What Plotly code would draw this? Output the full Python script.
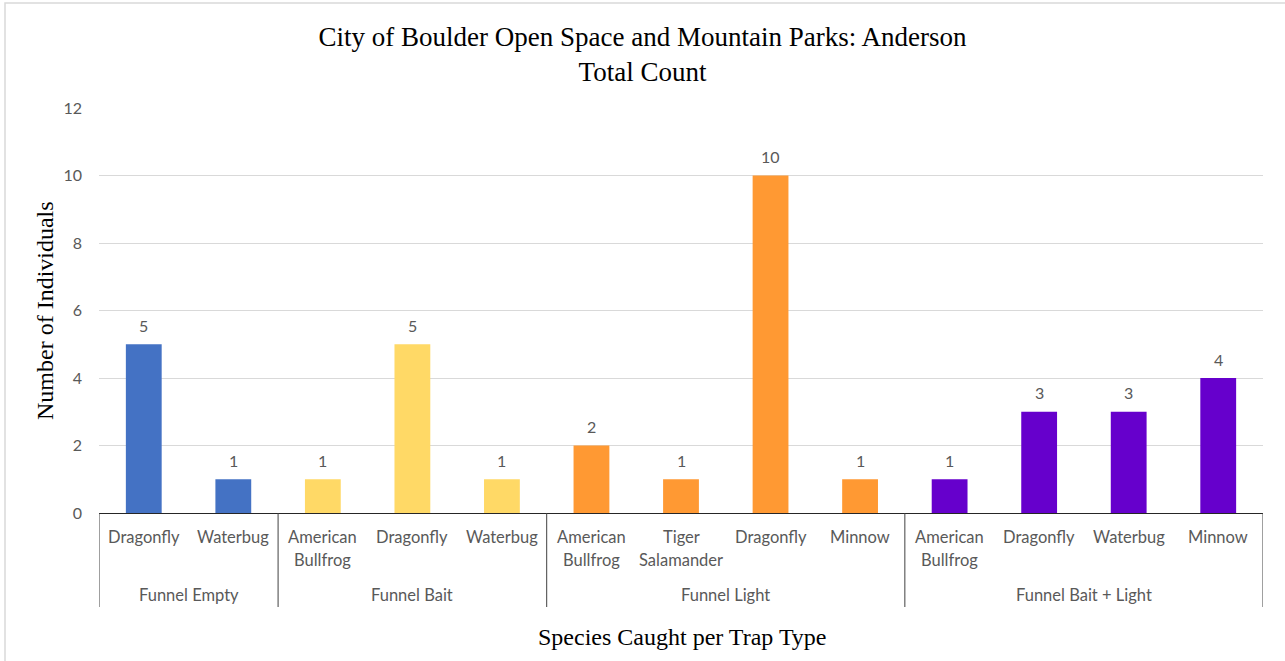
import plotly.graph_objects as go

# ---- data ----
groups = ["Funnel Empty", "Funnel Bait", "Funnel Light", "Funnel Bait + Light"]
species = [
    ["Dragonfly", "Waterbug"],
    ["American\nBullfrog", "Dragonfly", "Waterbug"],
    ["American\nBullfrog", "Tiger\nSalamander", "Dragonfly", "Minnow"],
    ["American\nBullfrog", "Dragonfly", "Waterbug", "Minnow"],
]
counts = [
    [5, 1],
    [1, 5, 1],
    [2, 1, 10, 1],
    [1, 3, 3, 4],
]
y_ticks = [0, 2, 4, 6, 8, 10, 12]
colors = ["#4472C4", "#FFD966", "#FF9933", "#6600CC"]

# ---- layout constants (pixels) ----
W, H = 1285, 661
L, R, T, B = 99, 1263, 108, 513
PW, PH = R - L, B - T


def py(p):  # pixel y -> paper y
    return (B - p) / PH


def px(p):  # pixel x -> paper x
    return (p - L) / PW


label_font = dict(family="Lato, Open Sans, sans-serif", size=16.5, color="#595959")
tick_font = dict(family="Lato, Open Sans, sans-serif", size=16, color="#595959")
serif = "Liberation Serif, Times New Roman, serif"

fig = go.Figure()
annotations = []
shapes = []

idx = 0
boundaries = [-0.5]
for g, (gname, sp, ct, col) in enumerate(zip(groups, species, counts, colors)):
    xs = list(range(idx, idx + len(sp)))
    fig.add_trace(go.Bar(
        x=xs, y=ct, name=gname, marker=dict(color=col, line=dict(width=0)),
        width=0.4, showlegend=False, hoverinfo="skip",
    ))
    for x, v in zip(xs, ct):
        annotations.append(dict(
            x=x, y=v, xref="x", yref="y", text=str(v), showarrow=False,
            font=tick_font, xanchor="center", yanchor="middle", yshift=19,
        ))
    for x, s in zip(xs, sp):
        for li, line in enumerate(s.split("\n")):
            annotations.append(dict(
                x=x, y=py(537 + 23 * li), xref="x", yref="paper",
                text=line, showarrow=False, font=label_font,
                xanchor="center", yanchor="middle",
            ))
    center = (xs[0] + xs[-1]) / 2
    annotations.append(dict(
        x=center, y=py(595), xref="x", yref="paper", text=gname,
        showarrow=False, font=label_font, xanchor="center", yanchor="middle",
    ))
    idx += len(sp)
    boundaries.append(idx - 0.5)

for b in boundaries:
    shapes.append(dict(type="line", xref="x", yref="paper", x0=b, x1=b,
                       y0=0, y1=py(607), line=dict(color="#404040", width=1)))

# chart border
shapes.append(dict(type="rect", xref="paper", yref="paper",
                   x0=px(5), x1=px(1300), y0=py(680), y1=py(3),
                   line=dict(color="#D9D9D9", width=1.5), layer="below"))

# axis titles
annotations.append(dict(
    x=px(682), y=py(637), xref="paper", yref="paper",
    text="Species Caught per Trap Type", showarrow=False,
    font=dict(family=serif, size=24, color="#000000"),
    xanchor="center", yanchor="middle",
))
annotations.append(dict(
    x=px(45), y=py(311), xref="paper", yref="paper",
    text="Number of Individuals", showarrow=False, textangle=-90,
    font=dict(family=serif, size=24, color="#000000"),
    xanchor="center", yanchor="middle",
))

fig.update_layout(
    width=W, height=H,
    margin=dict(l=L, r=W - R, t=T, b=H - B, pad=0),
    paper_bgcolor="white", plot_bgcolor="white",
    title=dict(
        text="City of Boulder Open Space and Mountain Parks: Anderson<br>Total Count",
        x=0.5, xref="container", xanchor="center",
        y=1 - 46 / H, yanchor="top",
        font=dict(family=serif, size=27, color="#000000"),
    ),
    xaxis=dict(
        range=[-0.5, idx - 0.5], showticklabels=False, showgrid=False,
        zeroline=False, showline=True, linecolor="#262626", linewidth=1,
        ticks="", fixedrange=True,
    ),
    yaxis=dict(
        range=[0, 12], tickvals=y_ticks, showgrid=True, gridcolor="#D9D9D9",
        gridwidth=1, zeroline=False, showline=False, ticks="",
        tickfont=tick_font, ticklabelstandoff=16, fixedrange=True,
    ),
    annotations=annotations,
    shapes=shapes,
)

fig.write_html("out.html", config={"displayModeBar": False},
               post_script="document.body.style.margin='0';document.body.style.overflow='hidden';")
